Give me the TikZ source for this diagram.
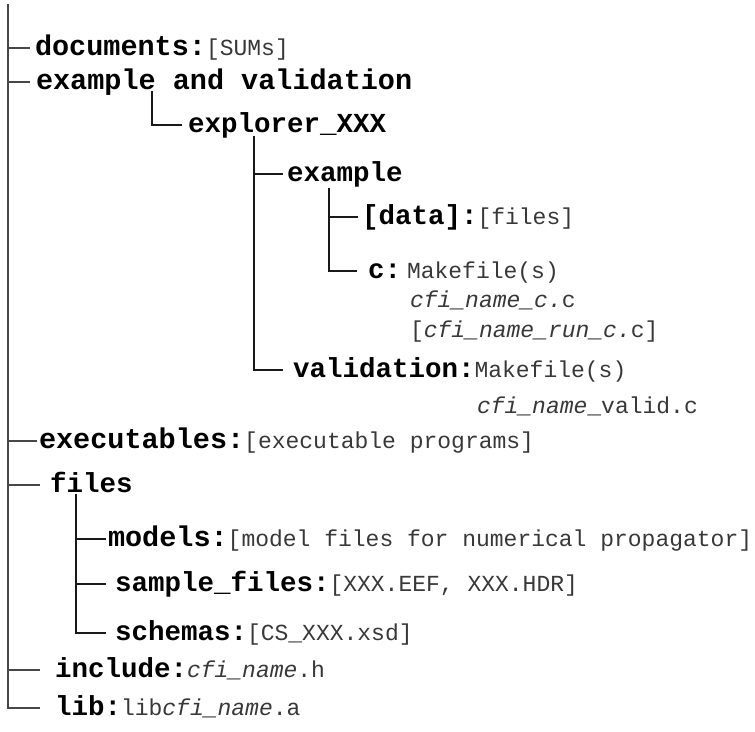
\documentclass[tikz,border=0pt]{standalone}
\usepackage{fontspec}
\setmonofont{Liberation Mono}
\newcommand\bfx[1]{{\fontsize{28.5}{33}\selectfont\bfseries #1}}
\newcommand\bfy[1]{{\fontsize{27.5}{32}\selectfont\bfseries #1}}
\newcommand\rgx[1]{{\color{black!78}\fontsize{23}{28}\selectfont\mdseries\upshape #1}}
\newcommand\itx[1]{{\color{black!78}\fontsize{23}{28}\selectfont\mdseries\itshape #1}}
\tikzset{
  row/.style={anchor=base west, inner sep=0pt, outer sep=0pt, font=\ttfamily},
  tl/.style={draw=black!90, line width=1.4pt},
  trunk/.style={draw=black!72, line width=1.9pt}
}
\begin{document}
\begin{tikzpicture}[x=1pt,y=-1pt]
\useasboundingbox (0,0) rectangle (755,731);
% title (cut off at the top edge in the reference)
\node[row] (title) at (55,-6) {\fontsize{28.7}{34}\selectfont\bfseries cfi\_library};
% rows
\node[row] (docs) at (35,55) {\bfx{documents:}\rgx{[SUMs]}};
\node[row] (exval) at (36,89) {\bfx{example and validation}};
\node[row] (explorer) at (188,132) {\bfy{explorer\_XXX}};
\node[row] (example) at (287,181) {\bfy{example}};
\node[row] (data) at (362,224) {\bfy{[data]:}\rgx{[files]}};
\node[row] (c) at (368,278) {\bfy{c:} \rgx{Makefile(s)}};
\node[row] (cfic) at (410,307) {\itx{cfi\_name\_c.}\rgx{c}};
\node[row] (cfirun) at (410,337) {\rgx{[}\itx{cfi\_name\_run\_c.}\rgx{c]}};
\node[row] (valid) at (293,377) {\bfy{validation:}\rgx{Makefile(s)}};
\node[row] (validc) at (477,413) {\itx{cfi\_name}\rgx{\_valid.c}};
\node[row] (exe) at (39,448) {\bfx{executables:}\rgx{[executable programs]}};
\node[row] (files) at (50,492) {\bfy{files}};
\node[row] (models) at (108,546) {\bfx{models:}\rgx{[model files for numerical propagator]}};
\node[row] (sample) at (115,591) {\bfy{sample\_files:}\rgx{[XXX.EEF, XXX.HDR]}};
\node[row] (schemas) at (115,640) {\bfy{schemas:}\rgx{[CS\_XXX.xsd]}};
\node[row] (include) at (55,677) {\bfy{include:}\itx{cfi\_name}\rgx{.h}};
\node[row] (lib) at (55,715) {\bfy{lib:}\rgx{lib}\itx{cfi\_name}\rgx{.a}};
% tree coordinates
\coordinate (root) at (8,4);
\coordinate (evb) at (152,91);
\coordinate (exb) at (254,136);
\coordinate (egb) at (329,188);
\coordinate (fib) at (76,494);
% connectors
\draw[trunk] (root) |- ([shift={(-5,-7)}]docs.base west);
\draw[trunk] (root) |- ([shift={(-6,-7)}]exval.base west);
\draw[trunk] (root) |- ([shift={(-2,-7)}]exe.base west);
\draw[trunk] (root) |- ([shift={(-10,-7)}]files.base west);
\draw[trunk] (root) |- ([shift={(-15,-7)}]include.base west);
\draw[trunk] (root) |- ([shift={(-15,-7)}]lib.base west);
\draw[tl] (evb) |- ([shift={(-6,-7)}]explorer.base west);
\draw[tl] (exb) |- ([shift={(-4,-7)}]example.base west);
\draw[tl] (exb) |- ([shift={(-10,-7)}]valid.base west);
\draw[tl] (egb) |- ([shift={(-4,-7)}]data.base west);
\draw[tl] (egb) |- ([shift={(-11,-7)}]c.base west);
\draw[tl] (fib) |- ([shift={(-2,-7)}]models.base west);
\draw[tl] (fib) |- ([shift={(-9,-7)}]sample.base west);
\draw[tl] (fib) |- ([shift={(-9,-7)}]schemas.base west);
\end{tikzpicture}
\end{document}
